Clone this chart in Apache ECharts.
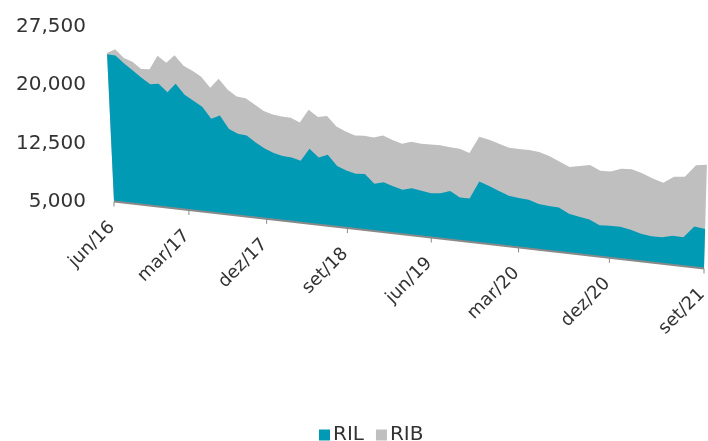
<!DOCTYPE html>
<html>
<head>
<meta charset="utf-8">
<script src="https://cdn.jsdelivr.net/npm/echarts@6/dist/echarts.min.js"></script>
<style>
    html, body { margin: 0; padding: 0; background: #fff; }
    #chart { width: 708px; height: 441px; }
</style>
</head>
<body>
<div id="chart"></div>
<script>
// 数据：jun/16 至 set/21 每月
const RIL = [24000, 23900, 22970, 22160, 21290, 20560, 20710, 19720, 20900, 19590,
             18930, 18270, 16860, 17340, 15750, 15260, 15150, 14380, 13740, 13290,
             13030, 12950, 12640, 14240, 13280, 13710, 12460, 12020, 11720, 11800,
             10730, 11040, 10670, 10370, 10670, 10490, 10280, 10400, 10790, 10140,
             10140, 12260, 11850, 11380, 10950, 10800, 10720, 10340, 10230, 10160,
             9550, 9330, 9150, 8620, 8690, 8700, 8480, 8150, 7980, 7990,
             8300, 8270, 9590, 9450];
const RIB = [150, 800, 700, 1100, 1150, 1910, 3560, 3740, 3600, 3660,
             3780, 3770, 3890, 4630, 4930, 4650, 4660, 4720, 4650, 4760,
             4870, 4890, 4730, 4780, 4950, 4740, 4810, 4740, 4670, 4650,
             5610, 5660, 5590, 5540, 5570, 5610, 5840, 5740, 5220, 5780,
             5380, 5310, 5470, 5570, 5640, 5730, 5820, 6050, 5800, 5340,
             5430, 5880, 6290, 6250, 6220, 6630, 6900, 6880, 6590, 6190,
             6690, 6830, 6910, 7210];
const tickIndex = [0, 9, 18, 27, 36, 45, 54, 63];
const tickLabels = ['jun/16', 'mar/17', 'dez/17', 'set/18', 'jun/19', 'mar/20', 'dez/20', 'set/21'];
const Y_MIN = 5000, Y_MAX = 27500, Y_STEP = 7500;

// 3D透视参数
const DEPTH = 1.146;      // 右端比左端放大的比例
const FLOOR_DROP = 67;    // 底边从左到右下降的像素
const LEAN_X = 484, LEAN_D = 7870;

const FONT = 'DejaVu Sans';
const TEXT = '#333333';
const LAST = RIL.length - 1;
const TOTAL = RIL.map((v, i) => v + RIB[i]);

// 把(序号, 数值)投影到透视画面上
function project(api, i, v) {
    const p0 = api.coord([0, Y_MIN]);
    const p1 = api.coord([LAST, Y_MIN]);
    const p = api.coord([i, v]);
    const w = p1[0] - p0[0];
    const t = (p[0] - p0[0]) / w;
    const den = DEPTH + (1 - DEPTH) * t;
    const xs = p0[0] + w * t / den;
    const base = p0[1] + FLOOR_DROP * (xs - p0[0]) / w;
    const h = (p0[1] - p[1]) * DEPTH / den;
    return [xs + (xs - LEAN_X) * h / LEAN_D, base - h];
}

function areaRenderer(values) {
    return function (params, api) {
        const pts = values.map((v, i) => project(api, i, v));
        pts.push(project(api, LAST, Y_MIN));
        pts.push(project(api, 0, Y_MIN));
        return { type: 'polygon', shape: { points: pts }, style: { fill: api.visual('color') } };
    };
}

function floorRenderer(params, api) {
    const a = project(api, 0, Y_MIN);
    const b = project(api, LAST, Y_MIN);
    const children = [{
        type: 'line',
        shape: { x1: a[0], y1: a[1], x2: b[0], y2: b[1] },
        style: { stroke: '#898989', lineWidth: 2 }
    }];
    tickIndex.forEach((idx, k) => {
        const p = project(api, idx, Y_MIN);
        children.push({
            type: 'line',
            shape: { x1: p[0], y1: p[1], x2: p[0], y2: p[1] + 5 },
            style: { stroke: '#898989', lineWidth: 1 }
        });
        children.push({
            type: 'text',
            x: p[0] - 2,
            y: p[1] + 23,
            rotation: Math.PI / 4,
            style: {
                text: tickLabels[k],
                fill: TEXT,
                fontSize: 18,
                fontFamily: FONT,
                align: 'right',
                verticalAlign: 'middle'
            }
        });
    });
    return { type: 'group', children: children };
}

const chart = echarts.init(document.getElementById('chart'), null, { renderer: 'canvas' });

chart.setOption({
    animation: false,
    grid: { left: 114, right: 4, top: 27, bottom: 239.5 },
    xAxis: { type: 'value', min: 0, max: LAST, show: false },
    yAxis: {
        type: 'value',
        min: Y_MIN,
        max: Y_MAX,
        interval: Y_STEP,
        axisLine: { show: false },
        axisTick: { show: false },
        splitLine: { show: false },
        axisLabel: {
            margin: 28,
            fontSize: 20,
            fontFamily: FONT,
            color: TEXT,
            formatter: v => v.toLocaleString('en-US')
        }
    },
    legend: {
        data: ['RIL', 'RIB'],
        left: 314,
        top: 420,
        icon: 'rect',
        itemWidth: 11,
        itemHeight: 11,
        itemGap: 12,
        textStyle: { fontSize: 20, fontFamily: FONT, color: TEXT, padding: [0, 0, 0, -2] }
    },
    series: [
        {
            name: 'RIB',
            type: 'custom',
            clip: false,
            itemStyle: { color: '#BFBFBF' },
            data: [[0, Y_MIN]],
            renderItem: areaRenderer(TOTAL)
        },
        {
            name: 'RIL',
            type: 'custom',
            clip: false,
            itemStyle: { color: '#009AB5' },
            data: [[0, Y_MIN]],
            renderItem: areaRenderer(RIL)
        },
        {
            name: 'floor',
            type: 'custom',
            clip: false,
            silent: true,
            data: [[0, Y_MIN]],
            renderItem: floorRenderer
        }
    ]
});
</script>
</body>
</html>
